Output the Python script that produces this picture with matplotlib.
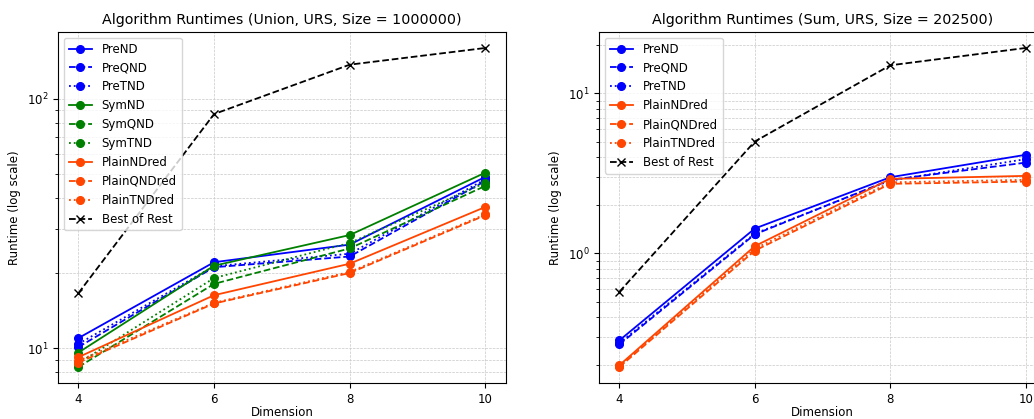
import matplotlib
matplotlib.use('Agg')
import matplotlib.pyplot as plt


dims = [4, 6, 8, 10]

# union runtimes, size 1000000
union_runtimes = {
	'PreND': [10.97, 22.1, 26.0, 48.6],
	'PreQND': [10.1, 21.1, 23.3, 46.8],
	'PreTND': [10.4, 21.3, 23.9, 47.5],
	'SymND': [9.6, 21.4, 28.4, 50.5],
	'SymQND': [8.4, 18.1, 25.1, 44.7],
	'SymTND': [8.7, 19.1, 26.4, 46.0],
	'PlainNDred': [9.2, 16.3, 21.8, 36.8],
	'PlainQNDred': [8.75, 15.1, 20.0, 34.1],
	'PlainTNDred': [8.9, 15.2, 20.2, 34.4],
}
union_best_rest = [16.6, 86.7, 136.8, 159.6]

# sum runtimes, size 202500
sum_runtimes = {
	'PreND': [0.286, 1.43, 2.99, 4.13],
	'PreQND': [0.27, 1.315, 2.88, 3.69],
	'PreTND': [0.275, 1.33, 2.85, 3.88],
	'PlainNDred': [0.2, 1.11, 2.92, 3.05],
	'PlainQNDred': [0.195, 1.04, 2.72, 2.81],
	'PlainTNDred': [0.198, 1.07, 2.78, 2.88],
}
sum_best_rest = [0.575, 5.0, 14.96, 19.2]

colors = {'Pre': 'blue', 'Sym': 'green', 'Plain': 'orangered'}
styles = {'N': '-', 'Q': '--', 'T': ':'}


def style_for(name):
	for prefix in colors:
		if name.startswith(prefix):
			return colors[prefix], styles[name[len(prefix)]]


def plot_runtimes(ax, runtimes, best_rest, title):
	for name, vals in runtimes.items():
		c, ls = style_for(name)
		ax.plot(dims, vals, color=c, linestyle=ls, marker='o', markersize=5.5,
				linewidth=1.3, label=name)
	ax.plot(dims, best_rest, color='black', linestyle='--', marker='x',
			markersize=5.5, linewidth=1.3, label='Best of Rest')
	ax.set_yscale('log')
	ax.set_xticks(dims)
	ax.set_title(title, fontsize=10.3)
	ax.set_xlabel('Dimension', fontsize=8.5, labelpad=0)
	ax.set_ylabel('Runtime (log scale)', fontsize=8.5)
	ax.tick_params(labelsize=8.5)
	ax.grid(True, which='both', linestyle='--', linewidth=0.5, color='#c8c8c8')
	ax.legend(loc='upper left', fontsize=8.5)


fig = plt.figure(figsize=(10.34, 4.19), dpi=100)
ax1 = fig.add_axes([0.0561, 0.0859, 0.433, 0.8377])
ax2 = fig.add_axes([0.5793, 0.0859, 0.4323, 0.8377])

plot_runtimes(ax1, union_runtimes, union_best_rest,
			  'Algorithm Runtimes (Union, URS, Size = 1000000)')
plot_runtimes(ax2, sum_runtimes, sum_best_rest,
			  'Algorithm Runtimes (Sum, URS, Size = 202500)')

plt.savefig('out.png', dpi=100)
plt.close()
